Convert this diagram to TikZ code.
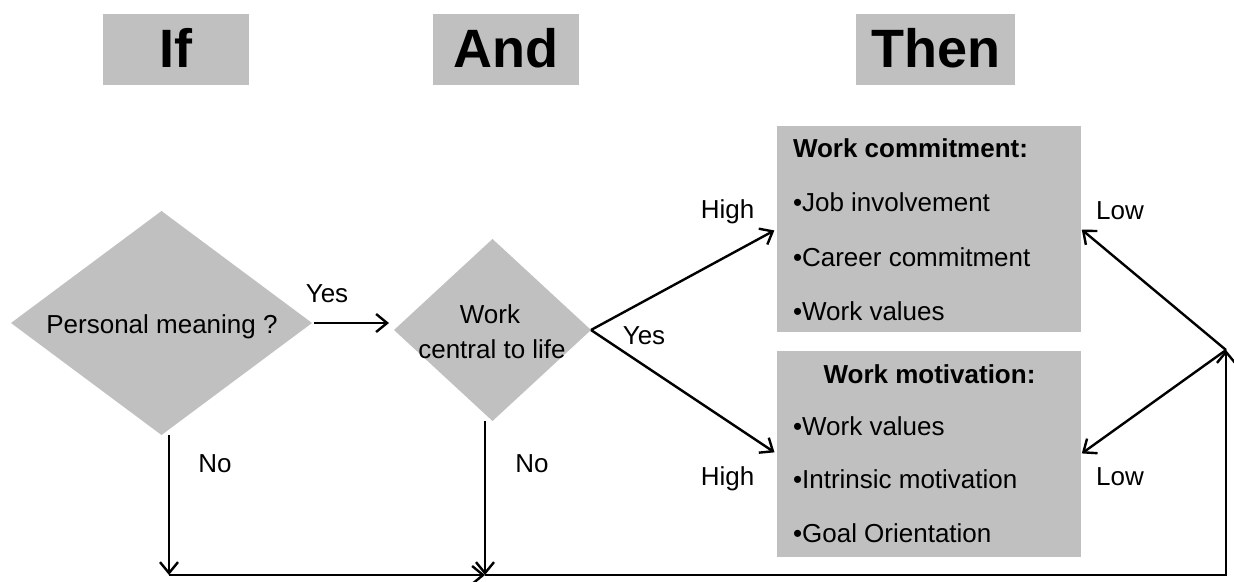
\documentclass[tikz,border=0pt]{standalone}
\usepackage{fontspec}
\setmainfont{Liberation Sans}
\usetikzlibrary{shapes.geometric,arrows.meta}
\definecolor{boxgray}{RGB}{192,192,192}
\begin{document}
\begin{tikzpicture}[x=1pt,y=-1pt,
  every node/.style={font=\fontsize{26}{31}\selectfont, inner sep=0pt, outer sep=0pt},
  hdr/.style={fill=boxgray, minimum height=71pt},
  hdrtext/.style={anchor=base, font=\fontsize{54}{60}\selectfont\bfseries},
  gbox/.style={fill=boxgray, minimum width=304pt, minimum height=206pt},
  dia/.style={diamond, fill=boxgray},
  arr/.style={draw, line width=2.4pt, -{Straight Barb[length=11pt,width=18pt]}},
  lbl/.style={anchor=base},
  item/.style={anchor=base west},
  boldtext/.style={font=\fontsize{26}{31}\selectfont\bfseries}]
\useasboundingbox (0,0) rectangle (1234,581);

% header boxes
\node[hdr, minimum width=146pt] (hif) at (176,49.5) {};
\node[hdrtext] (tif) at (176,67) {If};
\node[hdr, minimum width=146pt] (hand) at (506,49.5) {};
\node[hdrtext] (tand) at (506,67) {And};
\node[hdr, minimum width=159pt] (hthen) at (935.5,49.5) {};
\node[hdrtext] (tthen) at (935.5,67) {Then};

% diamonds
\node[dia, minimum width=301pt, minimum height=224pt] (d1) at (161.5,323) {};
\node[lbl] (t1) at (162,333) {Personal meaning ?};
\node[dia, minimum width=197pt, minimum height=182pt] (d2) at (492.5,330) {};
\node[lbl] (t2a) at (490,323) {Work};
\node[lbl] (t2b) at (492,358) {central to life};

% result boxes
\node[gbox] (b1) at (929,229) {};
\node[item, boldtext] (b1h) at (793,157) {Work commitment:};
\node[item] (b1a) at (793,211) {•Job involvement};
\node[item] (b1b) at (793,266) {•Career commitment};
\node[item] (b1c) at (793,320) {•Work values};

\node[gbox] (b2) at (929,454) {};
\node[lbl, boldtext] (b2h) at (929.5,383) {Work motivation:};
\node[item] (b2a) at (793,435) {•Work values};
\node[item] (b2b) at (793,488) {•Intrinsic motivation};
\node[item] (b2c) at (793,542) {•Goal Orientation};

% labels
\node[lbl] (yes1) at (327,302) {Yes};
\node[lbl] (no1) at (215,472) {No};
\node[lbl] (no2) at (532,472) {No};
\node[lbl] (yes2) at (644,344) {Yes};
\node[lbl] (high1) at (727.5,218) {High};
\node[lbl] (high2) at (727.5,485) {High};
\node[lbl] (low1) at (1120,219) {Low};
\node[lbl] (low2) at (1120,485) {Low};

% junction coordinates
\coordinate (v) at (1226,350);
\coordinate (j1) at (169,575);
\coordinate (j2) at (485,575);

% connectors
\draw[arr] ([xshift=2pt]d1.east) -- ([xshift=-5pt]d1.east -| d2.west);
\draw[arr] (j1 |- d1.south) -- (j1);
\draw[arr] (j2 |- d2.south) -- (j2);
\draw[arr] (j1) -- (j2);
\draw[arr] (j2) -- (j2 -| v) -- (v);
\draw[arr, shorten >=3pt] (d2.east) -- (b1.west);
\draw[arr, shorten >=3pt] (d2.east) -- (b2.west);
\draw[arr, shorten >=1pt] (v) -- (b1.east);
\draw[arr, shorten >=1pt] (v) -- (b2.east);
\end{tikzpicture}
\end{document}
